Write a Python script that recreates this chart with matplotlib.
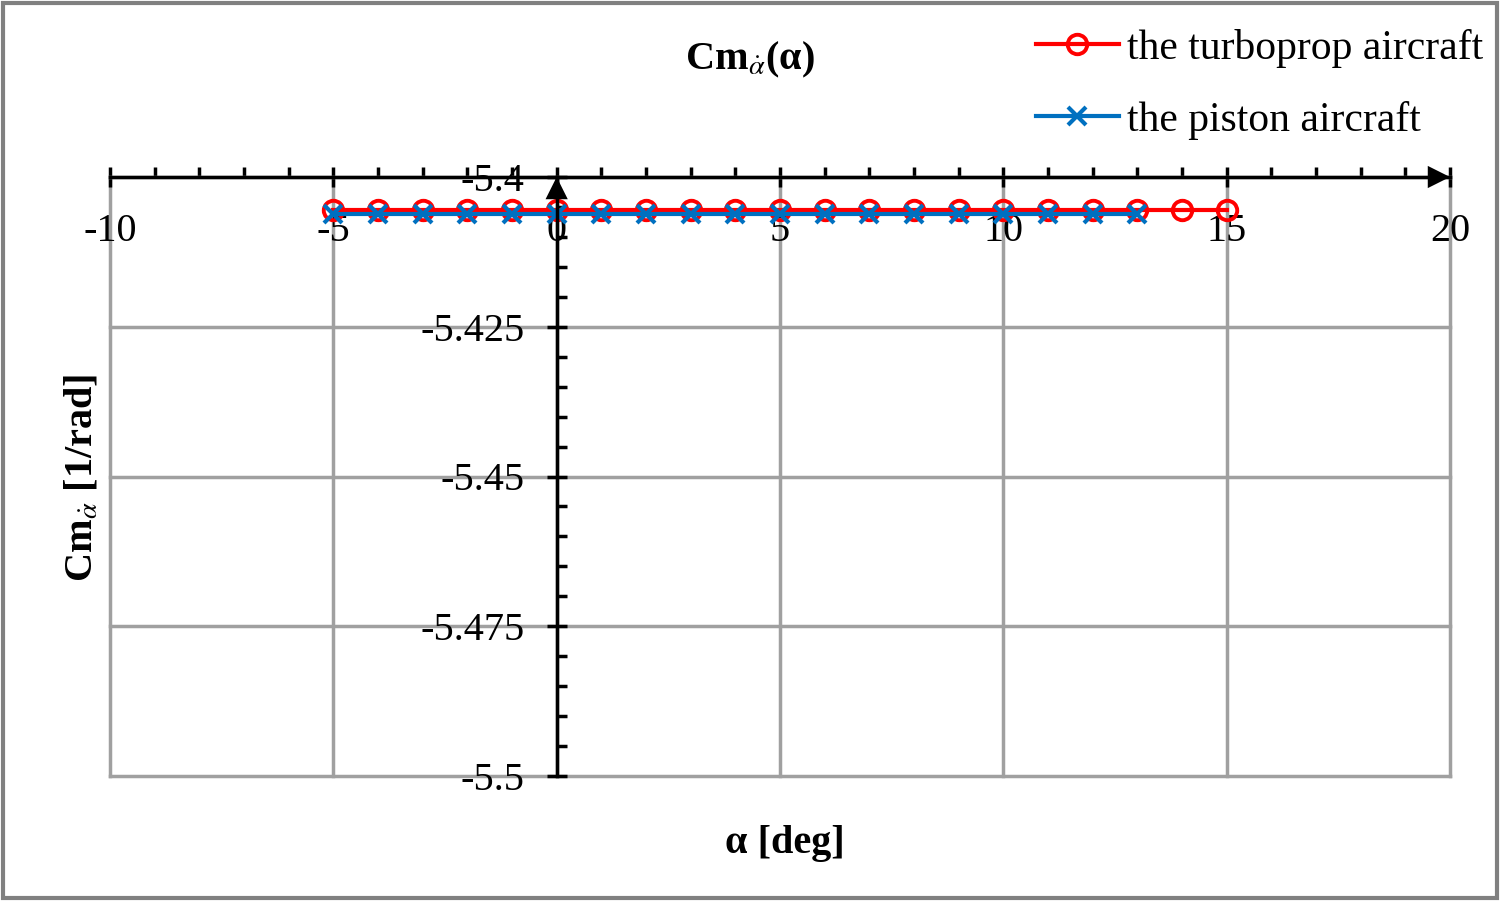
import matplotlib
matplotlib.use('Agg')
import matplotlib.pyplot as plt
import matplotlib.patches as mpatches
from matplotlib.ticker import MultipleLocator

plt.rcParams['font.family'] = ['Liberation Serif', 'DejaVu Serif']
plt.rcParams['mathtext.fontset'] = 'stix'
plt.rcParams['axes.unicode_minus'] = False

# angle of attack [deg]
alpha_turbo = [-5, -4, -3, -2, -1, 0, 1, 2, 3, 4, 5, 6, 7, 8, 9, 10, 11, 12, 13, 14, 15]
alpha_piston = [-5, -4, -3, -2, -1, 0, 1, 2, 3, 4, 5, 6, 7, 8, 9, 10, 11, 12, 13]
# Cm_alpha_dot [1/rad]
cm_turbo = [-5.4055] * 21
cm_piston = [-5.4061] * 19

fig = plt.figure(figsize=(15, 9.01), dpi=100)
ax = fig.add_axes([110/1500, 1 - 776/901, 1340/1500, 599/901])

ax.plot(alpha_turbo, cm_turbo, color='#ff0000', lw=3, marker='o', ms=14,
        mfc='none', mec='#ff0000', mew=2.8, label='the turboprop aircraft',
        zorder=4)
ax.plot(alpha_piston, cm_piston, color='#0070c0', lw=3, marker='x', ms=13,
        mew=3, label='the piston aircraft', zorder=5)

ax.set_xlim(-10, 20)
ax.set_ylim(-5.5, -5.4)

ax.xaxis.set_major_locator(MultipleLocator(5))
ax.xaxis.set_minor_locator(MultipleLocator(1))
ax.yaxis.set_minor_locator(MultipleLocator(0.005))
ax.set_yticks([-5.5, -5.475, -5.45, -5.425, -5.4])
ax.set_yticklabels(['-5.5', '-5.475', '-5.45', '-5.425', '-5.4'])

# axes cross at (0, -5.4)
ax.spines['bottom'].set_position(('data', -5.4))
ax.spines['left'].set_position(('data', 0))
ax.spines['top'].set_visible(False)
ax.spines['right'].set_visible(False)
ax.spines['bottom'].set_linewidth(2.5)
ax.spines['left'].set_linewidth(2.5)
ax.spines['bottom'].set_zorder(6)
ax.spines['left'].set_zorder(6)

ax.tick_params(which='major', direction='inout', length=14, width=2.5,
               labelsize=29)
ax.tick_params(axis='x', which='major', pad=19)
ax.tick_params(axis='y', which='major', pad=16)
ax.tick_params(which='minor', direction='in', length=7, width=2.5)

ax.grid(True, which='major', color='#a0a0a0', lw=2.5, zorder=0)
for gl in ax.get_xgridlines() + ax.get_ygridlines():
    gl.set_clip_on(False)

# arrow heads on the axes
ax.annotate('', xy=(20, -5.4), xytext=(19.3, -5.4),
            arrowprops=dict(arrowstyle='-|>', color='k', lw=0,
                            mutation_scale=40, shrinkA=0, shrinkB=0),
            annotation_clip=False, zorder=7)
ax.annotate('', xy=(0, -5.4), xytext=(0, -5.4045),
            arrowprops=dict(arrowstyle='-|>', color='k', lw=0,
                            mutation_scale=40, shrinkA=0, shrinkB=0),
            annotation_clip=False, zorder=7)

fig.text(750/1500, 1 - 60/901, r'Cm$_{\dot{\alpha}}$(α)', fontsize=29,
         fontweight='bold', ha='center', va='center')
fig.text(785/1500, 1 - 843/901, 'α [deg]', fontsize=29,
         fontweight='bold', ha='center', va='center')
fig.text(82/1500, 1 - 478/901, r'Cm$_{\dot{\alpha}}$ [1/rad]', fontsize=29,
         fontweight='bold', ha='center', va='center', rotation=90)

ax.legend(loc='upper right', bbox_to_anchor=(1500/1500, 1 - 12/901),
          bbox_transform=fig.transFigure, frameon=False, fontsize=30,
          handlelength=2.0, handletextpad=0.2, labelspacing=0.8,
          borderaxespad=0)

fig.patches.append(mpatches.Rectangle((0.002, 0.003), 0.996, 0.994,
                                      transform=fig.transFigure, fill=False,
                                      edgecolor='#808080', lw=3))

fig.savefig('out.png')
